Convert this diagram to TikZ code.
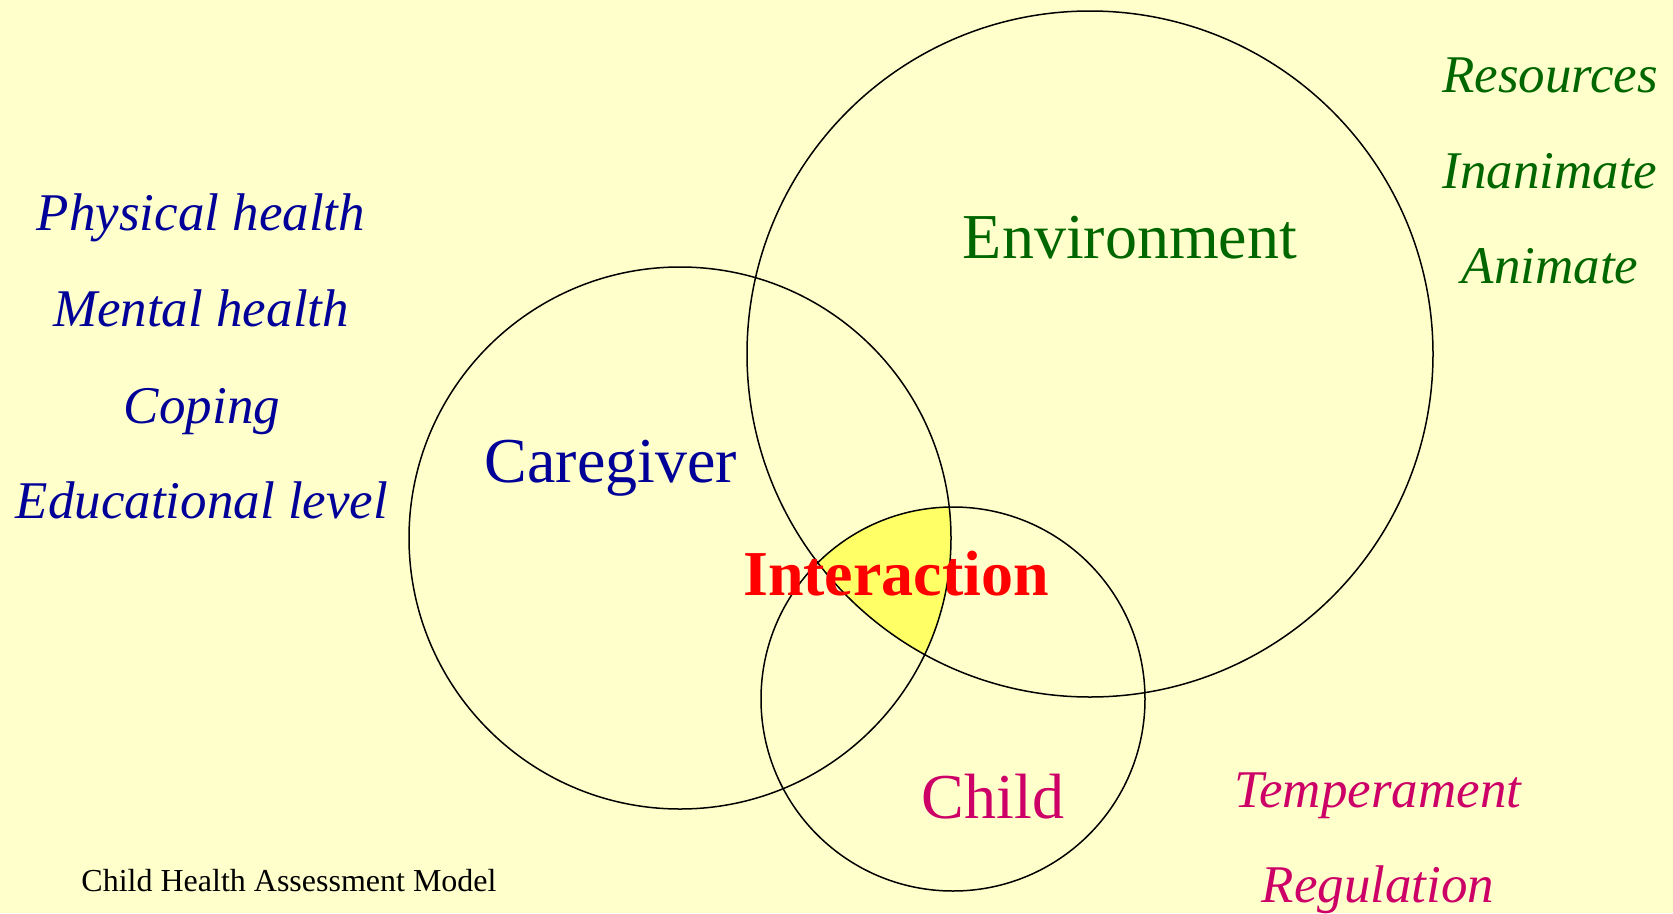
\documentclass[tikz,border=0pt]{standalone}
\usepackage{fontspec}
\setmainfont{Liberation Serif}
\definecolor{bgyellow}{RGB}{255,255,204}
\definecolor{fillyellow}{RGB}{255,255,102}
\definecolor{cgblue}{RGB}{0,0,153}
\definecolor{envgreen}{RGB}{0,102,0}
\definecolor{childmag}{RGB}{204,0,102}
\definecolor{interred}{RGB}{255,0,0}
\tikzset{
  lbl/.style={anchor=base, inner sep=0pt},
  big/.style={lbl, font=\fontsize{64}{70}\selectfont},
  item/.style={lbl, font=\fontsize{53}{60}\selectfont\itshape},
  ring/.style={draw=black, line width=1.5pt},
}
\begin{document}
\begin{tikzpicture}[x=1pt, y=-1pt]
\useasboundingbox[fill=bgyellow] (0,0) rectangle (1673,913);
\coordinate (cg) at (680,538);
\coordinate (env) at (1090,354);
\coordinate (ch) at (953,699);
% triple intersection
\begin{scope}
  \clip (cg) circle [radius=271pt];
  \clip (ch) circle [radius=192pt];
  \fill[fillyellow] (env) circle [radius=343pt];
\end{scope}
\draw[ring] (cg) circle [radius=271pt];
\draw[ring] (env) circle [radius=343pt];
\draw[ring] (ch) circle [radius=192pt];
% main labels
\node[big, text=cgblue] (lcg) at (611,482) {Caregiver};
\node[big, text=envgreen] (lenv) at (1130,258) {Environment};
\node[big, text=childmag] (lch) at (993,818) {Child};
\node[big, text=interred, font=\fontsize{64}{70}\selectfont\bfseries] (lint) at (896,595) {Interaction};
% caregiver items
\node[item, text=cgblue] (p1) at (201,230) {Physical health};
\node[item, text=cgblue] (p2) at (201,326) {Mental health};
\node[item, text=cgblue] (p3) at (202,423) {Coping};
\node[item, text=cgblue] (p4) at (202,518) {Educational level};
% environment items
\node[item, text=envgreen] (e1) at (1550,92) {Resources};
\node[item, text=envgreen] (e2) at (1550,188) {Inanimate};
\node[item, text=envgreen] (e3) at (1550,283) {Animate};
% child items
\node[item, text=childmag] (c1) at (1378,807) {Temperament};
\node[item, text=childmag] (c2) at (1378,902) {Regulation};
% caption
\node[lbl, font=\fontsize{32}{36}\selectfont] (cap) at (289,891) {Child Health Assessment Model};
\end{tikzpicture}
\end{document}
